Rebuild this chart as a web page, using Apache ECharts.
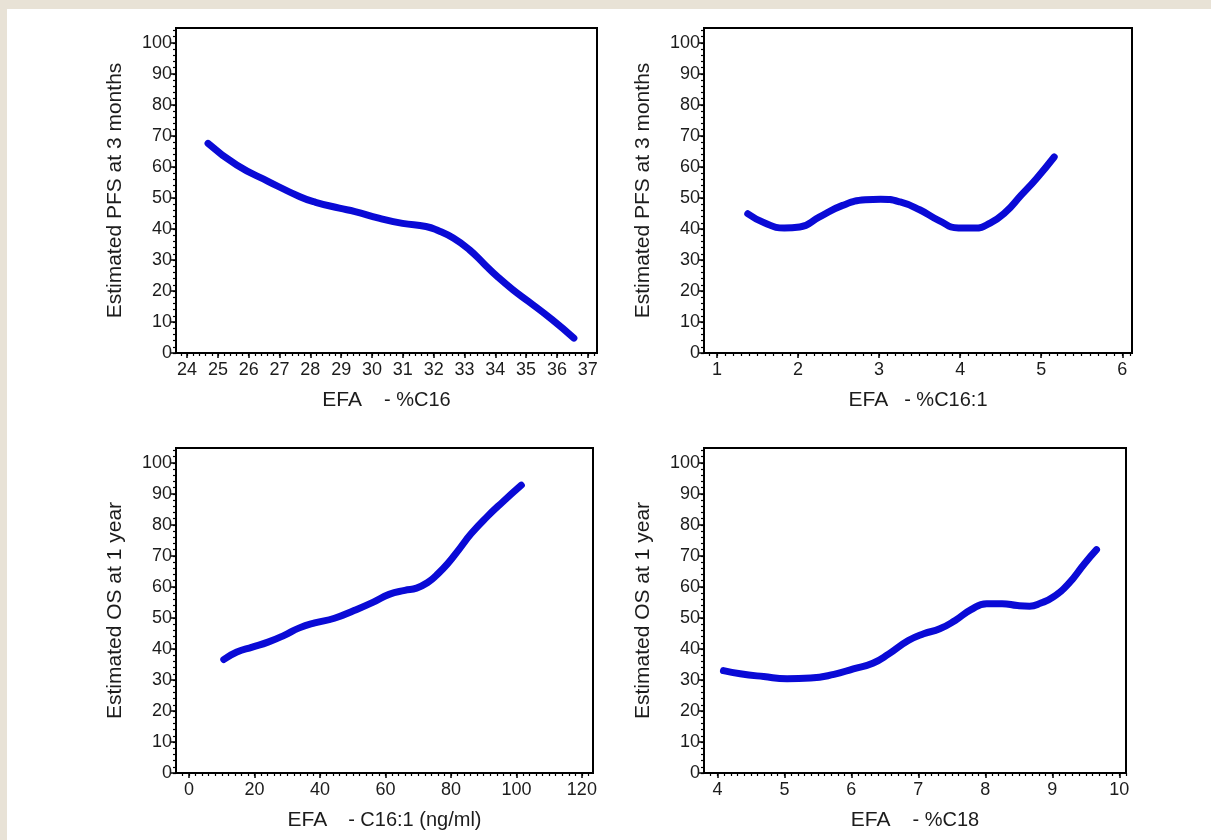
<!DOCTYPE html>
<html>
<head>
<meta charset="utf-8">
<script src="https://cdn.jsdelivr.net/npm/echarts@6/dist/echarts.min.js"></script>
<style>
html, body { margin: 0; padding: 0; background: #e8e2d6; }
#main { position: absolute; left: 7px; top: 9px; width: 1204px; height: 831px; background: #fff; }
</style>
</head>
<body>
<div id="main"></div>
<script>
// PFS at 3 months vs %C16
var c16X = [24.68, 25.61, 26.64, 27.66, 28.17, 28.94, 29.45, 30.22, 30.99, 31.75, 32.14, 32.65, 33.16, 33.67, 34.06, 34.57, 35.08, 35.85, 36.55];
var c16Y = [67.6, 60.6, 55.3, 50.4, 48.6, 46.7, 45.6, 43.5, 41.8, 40.8, 39.5, 37.0, 33.3, 28.4, 24.7, 20.4, 16.6, 10.7, 4.8];

// PFS at 3 months vs %C16:1
var c161X = [1.38, 1.59, 1.83, 2.02, 2.26, 2.55, 2.83, 3.02, 3.26, 3.50, 3.74, 3.98, 4.18, 4.37, 4.56, 4.75, 4.94, 5.16];
var c161Y = [44.9, 41.9, 40.3, 40.6, 43.8, 47.6, 49.4, 49.6, 48.7, 46.2, 42.7, 40.3, 40.3, 41.9, 45.4, 50.8, 56.2, 63.2];

// OS at 1 year vs C16:1 (ng/ml)
var ngX = [10.6, 14.6, 19.3, 24.1, 28.9, 33.7, 38.4, 44.4, 50.4, 56.3, 61.1, 65.9, 69.5, 73.1, 75.5, 79.0, 82.6, 86.2, 91.0, 95.8, 101.5];
var ngY = [36.6, 39.0, 40.6, 42.2, 44.3, 46.8, 48.4, 49.9, 52.4, 55.1, 57.6, 58.9, 59.6, 61.6, 63.7, 67.5, 72.3, 77.2, 82.6, 87.4, 92.8];

// OS at 1 year vs %C18
var c18X = [4.09, 4.34, 4.69, 5.04, 5.39, 5.74, 6.03, 6.32, 6.56, 6.85, 7.08, 7.32, 7.55, 7.78, 8.02, 8.25, 8.48, 8.66, 8.83, 9.01, 9.24, 9.48, 9.66];
var c18Y = [33.0, 32.0, 31.1, 30.4, 30.6, 31.8, 33.6, 35.4, 38.4, 42.7, 44.9, 46.5, 49.2, 52.6, 54.6, 54.6, 54.0, 53.8, 54.8, 56.7, 61.0, 67.5, 72.0];

// tick labels
var yTicks = [0, 10, 20, 30, 40, 50, 60, 70, 80, 90, 100];
var c16Ticks = [24, 25, 26, 27, 28, 29, 30, 31, 32, 33, 34, 35, 36, 37];
var c161Ticks = [1, 2, 3, 4, 5, 6];
var ngTicks = [0, 20, 40, 60, 80, 100, 120];
var c18Ticks = [4, 5, 6, 7, 8, 9, 10];

var pfsName = 'Estimated PFS at 3 months';
var osName = 'Estimated OS at 1 year';

function steps(from, to, step) {
  var out = [];
  for (var v = from; v <= to + 1e-9; v += step) out.push(Math.round(v * 1000) / 1000);
  return out;
}

function pairs(xs, ys) {
  return xs.map(function (x, i) { return [x, ys[i]]; });
}

var font = 'Liberation Sans, Arial, sans-serif';
var ink = '#1c1c1c';

// page coords minus the beige margin
var offX = 7, offY = 9;
var panels = [
  { box: [176, 28, 597, 353], xMin: 23.64, xMax: 37.3, ticks: c16Ticks, minor: steps(23.8, 37.2, 0.2),
    yName: pfsName, a: 'EFA', b: '- %C16', gap: 22, data: pairs(c16X, c16Y) },
  { box: [704, 28, 1132, 353], xMin: 0.84, xMax: 6.12, ticks: c161Ticks, minor: steps(0.9, 6.1, 0.1),
    yName: pfsName, a: 'EFA', b: '- %C16:1', gap: 16, data: pairs(c161X, c161Y) },
  { box: [176, 448, 593, 773], xMin: -4, xMax: 123.4, ticks: ngTicks, minor: steps(-2, 122, 2),
    yName: osName, a: 'EFA', b: '- C16:1 (ng/ml)', gap: 21, data: pairs(ngX, ngY) },
  { box: [704, 448, 1126, 773], xMin: 3.8, xMax: 10.1, ticks: c18Ticks, minor: steps(3.9, 10.1, 0.1),
    yName: osName, a: 'EFA', b: '- %C18', gap: 22, data: pairs(c18X, c18Y) }
];

var grid = [], xAxis = [], yAxis = [], series = [];
var yMinor = steps(0, 104, 2);

panels.forEach(function (p, i) {
  grid.push({
    left: p.box[0] - offX, top: p.box[1] - offY,
    width: p.box[2] - p.box[0], height: p.box[3] - p.box[1],
    show: true, borderColor: '#000', borderWidth: 2, backgroundColor: '#fff',
    outerBoundsMode: 'none'
  });
  // major x axis
  xAxis.push({
    type: 'value', gridIndex: i, position: 'bottom', min: p.xMin, max: p.xMax,
    splitLine: { show: false },
    axisLine: { onZero: false, lineStyle: { color: '#000', width: 2 } },
    axisTick: { customValues: p.ticks, length: 5, lineStyle: { color: '#000', width: 1.5 } },
    axisLabel: { customValues: p.ticks, margin: 8, color: ink, fontSize: 18, fontFamily: font },
    name: '{a|' + p.a + '}{b|' + p.b + '}', nameLocation: 'middle', nameGap: 37,
    nameTextStyle: {
      rich: {
        a: { fontSize: 21, fontFamily: font, color: ink, padding: [0, p.gap, 0, 0] },
        b: { fontSize: 20, fontFamily: font, color: ink }
      }
    }
  });
  // minor x ticks
  xAxis.push({
    type: 'value', gridIndex: i, position: 'bottom', min: p.xMin, max: p.xMax,
    splitLine: { show: false }, axisLine: { show: false, onZero: false }, axisLabel: { show: false },
    axisTick: { customValues: p.minor, length: 3, lineStyle: { color: '#000', width: 1.2 } }
  });
  yAxis.push({
    type: 'value', gridIndex: i, position: 'left', min: 0, max: 104.8,
    splitLine: { show: false },
    axisLine: { onZero: false, lineStyle: { color: '#000', width: 2 } },
    axisTick: { customValues: yTicks, length: 5, lineStyle: { color: '#000', width: 1.5 } },
    axisLabel: { customValues: yTicks, margin: 4, color: ink, fontSize: 18, fontFamily: font },
    name: p.yName, nameLocation: 'middle', nameGap: 50,
    nameTextStyle: { fontSize: 21, fontFamily: font, color: ink }
  });
  yAxis.push({
    type: 'value', gridIndex: i, position: 'left', min: 0, max: 104.8,
    splitLine: { show: false }, axisLine: { show: false, onZero: false }, axisLabel: { show: false },
    axisTick: { customValues: yMinor, length: 3, lineStyle: { color: '#000', width: 1.2 } }
  });
  series.push({
    type: 'line', xAxisIndex: i * 2, yAxisIndex: i * 2,
    data: p.data, smooth: true, showSymbol: false,
    lineStyle: { color: '#0a0ad6', width: 7, cap: 'round', join: 'round' }
  });
});

var chart = echarts.init(document.getElementById('main'));
chart.setOption({
  animation: false,
  backgroundColor: '#fff',
  grid: grid,
  xAxis: xAxis,
  yAxis: yAxis,
  series: series
});
</script>
</body>
</html>
